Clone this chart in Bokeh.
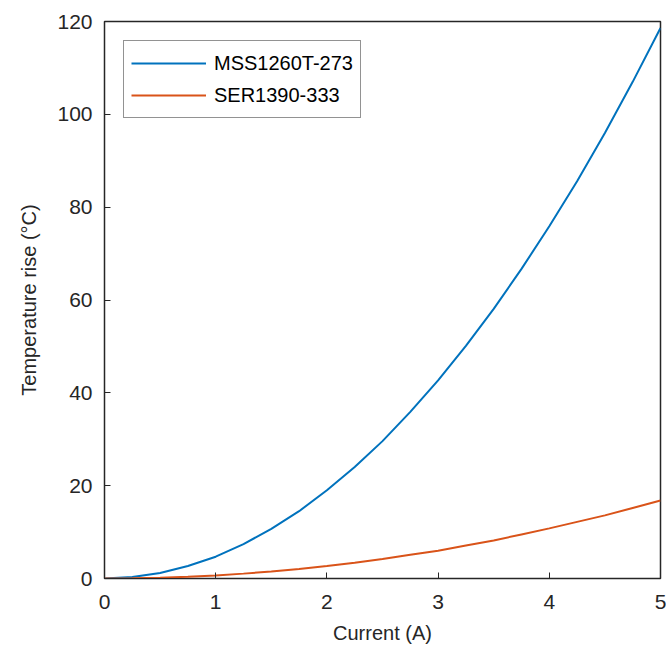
from bokeh.plotting import figure
from bokeh.models import Range1d, Legend, LegendItem, FixedTicker
from bokeh.embed import file_html
from bokeh.resources import INLINE

current = [0, 0.25, 0.5, 0.75, 1, 1.25, 1.5, 1.75, 2, 2.25, 2.5, 2.75, 3,
           3.25, 3.5, 3.75, 4, 4.25, 4.5, 4.75, 5]
mss1260 = [0, 0.3, 1.2, 2.7, 4.7, 7.4, 10.7, 14.5, 19.0, 24.0, 29.6, 35.9, 42.7,
           50.1, 58.1, 66.7, 75.9, 85.6, 96.0, 107.0, 118.6]
ser1390 = [0, 0.04, 0.17, 0.38, 0.67, 1.05, 1.5, 2.06, 2.7, 3.4, 4.2, 5.1, 6.0,
           7.1, 8.2, 9.5, 10.8, 12.2, 13.6, 15.2, 16.8]
x_ticks = [0, 1, 2, 3, 4, 5]
y_ticks = [0, 20, 40, 60, 80, 100, 120]

FONT = "Liberation Sans"
TXT = "#262626"

p = figure(width=666, height=655, output_backend="svg", toolbar_location=None,
           x_range=Range1d(0, 5), y_range=Range1d(0, 120),
           min_border_left=104, min_border_top=21, min_border_right=6, min_border_bottom=77)
p.background_fill_color = "white"
p.border_fill_color = "white"
p.outline_line_color = "#262626"
p.outline_line_width = 1.5
p.grid.visible = False

for ax in (p.xaxis[0], p.yaxis[0]):
    ax.major_tick_in = 6
    ax.major_tick_out = 0
    ax.minor_tick_in = 0
    ax.minor_tick_out = 0
    ax.axis_line_color = "#262626"
    ax.major_tick_line_color = "#262626"
    ax.major_label_text_font = FONT
    ax.major_label_text_font_size = "21px"
    ax.major_label_text_color = TXT
    ax.axis_label_text_font = FONT
    ax.axis_label_text_font_size = "20px"
    ax.axis_label_text_font_style = "normal"
    ax.axis_label_text_color = TXT

p.xaxis.ticker = FixedTicker(ticks=x_ticks)
p.yaxis.ticker = FixedTicker(ticks=y_ticks)
p.xaxis.axis_label = "Current (A)"
p.yaxis.axis_label = "Temperature rise (°C)"
p.xaxis.major_label_standoff = 16
p.yaxis.major_label_standoff = 12
p.xaxis.axis_label_standoff = 10
p.yaxis.axis_label_standoff = 14

r1 = p.line(current, mss1260, line_color="#0072BD", line_width=2)
r2 = p.line(current, ser1390, line_color="#D95319", line_width=2)

legend = Legend(items=[LegendItem(label="MSS1260T-273", renderers=[r1]),
                       LegendItem(label="SER1390-333", renderers=[r2])],
                location="top_left")
legend.label_text_font = FONT
legend.label_text_font_size = "20px"
legend.label_text_color = "black"
legend.border_line_color = "#262626"
legend.border_line_width = 1.5
legend.glyph_width = 75
legend.glyph_height = 30
legend.label_height = 30
legend.spacing = 2
legend.padding = 7
legend.margin = 19
legend.label_standoff = 8
p.add_layout(legend)

open("out.html", "w").write(file_html(p, INLINE))
